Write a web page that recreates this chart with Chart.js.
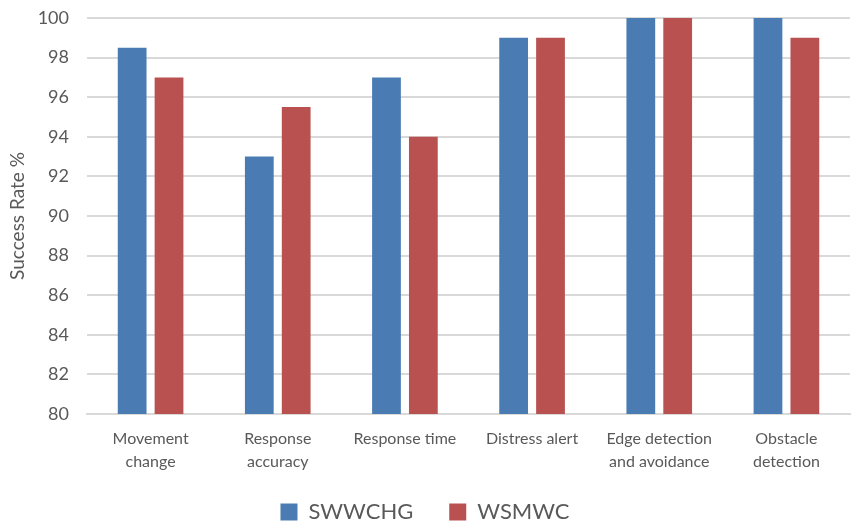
<!DOCTYPE html>
<html>
<head>
<meta charset="utf-8">
<script src="https://cdn.jsdelivr.net/npm/chart.js@4/dist/chart.umd.min.js"></script>
<style>
  html, body { margin: 0; padding: 0; background: #ffffff; }
  #wrap { width: 853px; height: 523px; }
</style>
</head>
<body>
<div id="wrap"><canvas id="c" width="853" height="523"></canvas></div>
<script>
const categories = [
  ["Movement", "change"],
  ["Response", "accuracy"],
  "Response time",
  "Distress alert",
  ["Edge detection", "and avoidance"],
  ["Obstacle", "detection"]
];
const swwchg = [98.5, 93, 97, 99, 100, 100];
const wsmwc = [97, 95.5, 94, 99, 100, 99];
const yTicks = { min: 80, max: 100, step: 2 };

const FONT = "Lato, 'Open Sans', sans-serif";
const TEXT = "#595959";
const GRID = "#d9d9d9";

// Let the two-line category labels extend below the x scale box
// (the legend sits partly over that box).
const unclipXLabels = {
  id: "unclipXLabels",
  afterLayout(chart) {
    chart.scales.x.bottom = chart.height;
  }
};

new Chart(document.getElementById("c"), {
  type: "bar",
  plugins: [unclipXLabels],
  data: {
    labels: categories,
    datasets: [
      { label: "SWWCHG", data: swwchg, backgroundColor: "#4a7cb3", borderWidth: 0 },
      { label: "WSMWC", data: wsmwc, backgroundColor: "#b85150", borderWidth: 0 }
    ]
  },
  options: {
    responsive: false,
    animation: false,
    devicePixelRatio: 1,
    categoryPercentage: 0.58,
    barPercentage: 0.78,
    layout: { padding: { top: 18, right: 3, left: 0, bottom: -10 } },
    plugins: {
      tooltip: { enabled: false },
      legend: {
        position: "bottom",
        labels: {
          font: { family: FONT, size: 22 },
          color: TEXT,
          boxWidth: 17,
          boxHeight: 17,
          padding: 36
        }
      }
    },
    scales: {
      x: {
        grid: { display: false },
        border: { color: GRID, width: 2 },
        ticks: {
          font: { family: FONT, size: 16, lineHeight: 1.4 },
          color: TEXT,
          maxRotation: 0,
          autoSkip: false,
          padding: 6
        },
        afterFit: (s) => { s.height = 51; }
      },
      y: {
        min: yTicks.min,
        max: yTicks.max,
        grid: { color: GRID, lineWidth: 2, drawTicks: false },
        border: { display: false },
        ticks: {
          stepSize: yTicks.step,
          font: { family: FONT, size: 18 },
          color: TEXT,
          padding: 18
        },
        title: {
          display: true,
          text: "Success Rate %",
          font: { family: FONT, size: 19 },
          color: TEXT,
          padding: { top: 6, bottom: 0 }
        },
        afterFit: (s) => {
          s.width = 87;
          s.paddingTop = 0;
          s.paddingBottom = 0;
        }
      }
    }
  }
});
</script>
</body>
</html>
